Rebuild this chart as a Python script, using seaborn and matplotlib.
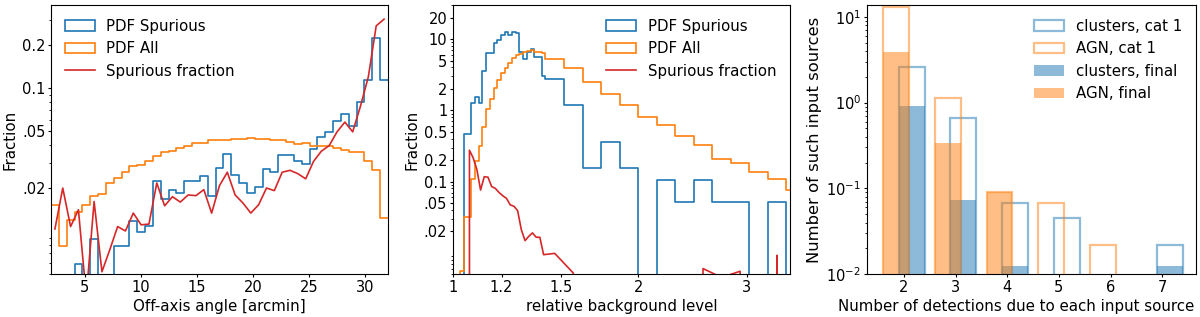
import numpy as np
import matplotlib
matplotlib.use("Agg")
import matplotlib.pyplot as plt
from matplotlib.patches import Patch
from matplotlib.lines import Line2D
from matplotlib.ticker import NullFormatter, NullLocator
import seaborn as sns

plt.rcParams['font.family'] = ['DejaVu Sans']
plt.rcParams['font.size'] = 10.8
plt.rcParams['xtick.labelsize'] = 10.5
plt.rcParams['ytick.labelsize'] = 10.5
for ax_name in ('xtick', 'ytick'):
    plt.rcParams[ax_name + '.major.size'] = 2.2
    plt.rcParams[ax_name + '.minor.size'] = 1.3
    plt.rcParams[ax_name + '.major.pad'] = 1.8
    plt.rcParams[ax_name + '.minor.pad'] = 1.8
plt.rcParams['axes.labelpad'] = 3.0

BLUE, ORANGE, RED = '#1f77b4', '#ff7f0e', '#d62728'

# --- panel 1: off-axis angle (43 equal bins from 2 to 32 arcmin)
off_edges = np.linspace(2, 32, 44)
off_pdf_spur = [0, 0, 0, 0.0059, 0, 0.0088, 0, 0, 0.0079, 0.0079,
                0.0117, 0.0098, 0.0108, 0.0224, 0.0167, 0.0195, 0.0186, 0.0224, 0.0224, 0.0244,
                0.0176, 0.0275, 0.0347, 0.0245, 0.0217, 0.0186, 0.0205, 0.0273, 0.0258, 0.0342,
                0.0342, 0.0310, 0.0296, 0.0375, 0.0454, 0.0490, 0.0590, 0.0658, 0.0540, 0.0796,
                0.1138, 0.2255, 0.1138]
off_pdf_all = [0.0153, 0.0079, 0.0119, 0.0135, 0.0153, 0.0177, 0.0183, 0.0217, 0.0234, 0.0258,
               0.0283, 0.0290, 0.0310, 0.0337, 0.0357, 0.0362, 0.0381, 0.0394, 0.0410, 0.0413,
               0.0432, 0.0432, 0.0432, 0.0439, 0.0439, 0.0447, 0.0439, 0.0439, 0.0434, 0.0434,
               0.0422, 0.0406, 0.0411, 0.0396, 0.0396, 0.0396, 0.0383, 0.0366, 0.0355, 0.0357,
               0.0310, 0.0269, 0.0123]
off_frac = [0.01035, 0.0200, 0.01076, 0.0141, 0.0035, 0.0161, 0.0052, 0.0074, 0.01076, 0.01003,
            0.01337, 0.01107, 0.0112, 0.0217, 0.01503, 0.0174, 0.01596, 0.0179, 0.0177, 0.0195,
            0.01337, 0.0208, 0.0258, 0.0179, 0.0157, 0.01337, 0.0153, 0.0200, 0.0192, 0.0258,
            0.0266, 0.0252, 0.0232, 0.0307, 0.0362, 0.0396, 0.0494, 0.0578, 0.0494, 0.0750,
            0.1200, 0.2720, 0.3030]

# --- panel 2: relative background level (fine bins to sqrt(2), then coarse)
bg_edges = [1.0, 1.0140, 1.0281, 1.0425, 1.0570, 1.0718, 1.0868, 1.1019, 1.1173, 1.1329,
            1.1487, 1.1647, 1.1810, 1.1975, 1.2142, 1.2311, 1.2483, 1.2657, 1.2834, 1.3013,
            1.3195, 1.3379, 1.3566, 1.3755, 1.3947, 1.4142, 1.5157, 1.6245, 1.7411, 1.8661,
            2.0, 2.1435, 2.2974, 2.4623, 2.6390, 2.8284, 3.0314, 3.2490, 3.4822, 3.7321]
bg_pdf_spur = [0, 0, 0, 0.466, 0.466, 1.28, 1.56, 1.28, 3.59, 6.4,
               6.4, 8.8, 9.6, 11.3, 12.6, 11.3, 12.6, 12.0, 6.6, 5.18,
               6.6, 7.2, 5.6, 5.6, 3.03, 2.77, 1.17, 0.156, 0.36, 0.156,
               0, 0.104, 0.052, 0.104, 0.052, 0.052, 0, 0.052, 0]
bg_pdf_all = [0, 0, 0.0056, 0.0313, 0.0313, 0.107, 0.193, 0.313, 0.575, 1.04,
              1.43, 2.08, 2.66, 3.37, 3.95, 4.64, 5.45, 5.94, 6.27, 6.6,
              6.82, 6.97, 6.6, 6.5, 6.4, 5.18, 3.87, 2.52, 1.68, 1.17,
              0.80, 0.614, 0.44, 0.33, 0.204, 0.18, 0.136, 0.107, 0.076]
bg_frac = [0, 0, 0, 0, 0.275, 0.215, 0.148, 0.076, 0.117, 0.115,
           0.085, 0.080, 0.070, 0.063, 0.058, 0.047, 0.045, 0.039, 0.021, 0.0148,
           0.017, 0.019, 0.0165, 0.0165, 0.0094, 0.0098, 0.0052, 0, 0, 0,
           0, 0, 0, 0.006, 0.0045, 0.0055, 0, 0.0092, 0]

# --- panel 3: number of detections per input source
n_det = np.array([2, 3, 4, 5, 6, 7])
clusters_cat1 = np.array([2.6, 0.66, 0.067, 0.0446, 0, 0.022])
agn_cat1 = np.array([12.9, 1.14, 0.09, 0.067, 0.022, 0])
clusters_final = np.array([0.915, 0.074, 0.0125, 0, 0, 0.0125])
agn_final = np.array([3.84, 0.335, 0.09, 0, 0, 0])


def step_panel(ax, edges, spur, allsrc, frac, centres):
    """Two step histograms (given per-bin values) plus the fraction line."""
    bins = [float(e) for e in edges]  # a list, so seaborn's bins=="auto" check is happy
    sns.histplot(x=centres, weights=spur, bins=bins, element="step", fill=False,
                 color=BLUE, linewidth=1.2, ax=ax)
    sns.histplot(x=centres, weights=allsrc, bins=bins, element="step", fill=False,
                 color=ORANGE, linewidth=1.2, ax=ax)
    sns.lineplot(x=centres, y=frac, estimator=None, sort=False, color=RED,
                 linewidth=1.2, ax=ax)
    ax.set_yscale('log')
    ax.yaxis.set_minor_formatter(NullFormatter())
    handles = [Patch(facecolor='none', edgecolor=BLUE, linewidth=1.2, label='PDF Spurious'),
               Patch(facecolor='none', edgecolor=ORANGE, linewidth=1.2, label='PDF All'),
               Line2D([], [], color=RED, linewidth=1.2, label='Spurious fraction')]
    return handles


fig = plt.figure(figsize=(12, 3.17), dpi=100)
ax1 = fig.add_axes([0.0425, 0.135, 0.2808, 0.849])
ax2 = fig.add_axes([0.3773, 0.135, 0.2811, 0.849])
ax3 = fig.add_axes([0.7223, 0.135, 0.2742, 0.849])

# panel 1
off_centres = 0.5 * (off_edges[:-1] + off_edges[1:])
h = step_panel(ax1, off_edges, off_pdf_spur, off_pdf_all, off_frac, off_centres)
ax1.set_xlim(2, 32)
ax1.set_ylim(0.005, 0.38)
ax1.set_yticks([0.02, 0.05, 0.1, 0.2])
ax1.set_yticklabels(['.02', '.05', '0.1', '0.2'])
ax1.set_xlabel('Off-axis angle [arcmin]')
ax1.set_ylabel('Fraction')
ax1.legend(handles=h, loc='upper left', frameon=False)

# panel 2
bg_arr = np.array(bg_edges)
bg_centres = np.sqrt(bg_arr[:-1] * bg_arr[1:])
h = step_panel(ax2, bg_arr, bg_pdf_spur, bg_pdf_all, bg_frac, bg_centres)
ax2.set_xscale('log')
ax2.set_xlim(1, 3.53)
ax2.set_ylim(0.005, 30)
ax2.set_xticks([1, 1.2, 1.5, 2, 3])
ax2.set_xticklabels(['1', '1.2', '1.5', '2', '3'])
ax2.xaxis.set_minor_locator(NullLocator())
ax2.set_yticks([0.02, 0.05, 0.1, 0.2, 0.5, 1, 2, 5, 10, 20])
ax2.set_yticklabels(['.02', '.05', '0.1', '0.2', '0.5', '1', '2', '5', '10', '20'])
ax2.set_xlabel('relative background level')
ax2.set_ylabel('Fraction')
ax2.legend(handles=h, loc='upper right', frameon=False)

# panel 3: offset bars, outlines for cat 1, filled for final
bar_sets = [(clusters_cat1, BLUE, 0.15, False),
            (agn_cat1, ORANGE, -0.15, False),
            (clusters_final, BLUE, 0.15, True),
            (agn_final, ORANGE, -0.15, True)]
for vals, col, shift, filled in bar_sets:
    keep = vals > 0
    if filled:
        sns.barplot(x=n_det[keep] + shift, y=vals[keep], native_scale=True, orient='x',
                    color=col, alpha=0.5, width=0.5, linewidth=0, errorbar=None,
                    saturation=1, ax=ax3)
    else:
        sns.barplot(x=n_det[keep] + shift, y=vals[keep], native_scale=True, orient='x',
                    fill=False, color=col, alpha=0.5, width=0.5, linewidth=1.6,
                    errorbar=None, saturation=1, ax=ax3)
ax3.set_yscale('log')
ax3.set_ylim(0.01, 13.7)
ax3.set_xlim(1.28, 7.65)
ax3.set_xticks(n_det)
ax3.set_xticklabels([str(n) for n in n_det])
ax3.set_xlabel('Number of detections due to each input source')
ax3.xaxis.label.set_x(0.455)
ax3.set_ylabel('Number of such input sources', fontsize=11.8)
h3 = [Patch(facecolor='none', edgecolor=BLUE, alpha=0.5, linewidth=1.6, label='clusters, cat 1'),
      Patch(facecolor='none', edgecolor=ORANGE, alpha=0.5, linewidth=1.6, label='AGN, cat 1'),
      Patch(facecolor=BLUE, alpha=0.5, linewidth=0, label='clusters, final'),
      Patch(facecolor=ORANGE, alpha=0.5, linewidth=0, label='AGN, final')]
ax3.legend(handles=h3, loc='upper right', frameon=False)

fig.savefig('out.png', dpi=100)
